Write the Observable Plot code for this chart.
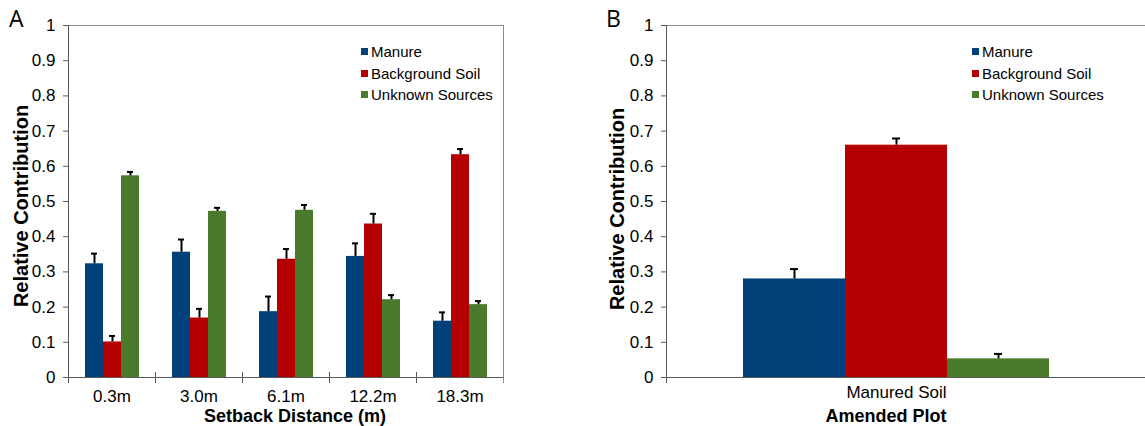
<!DOCTYPE html>
<html>
<head>
<meta charset="utf-8">
<script src="https://cdn.jsdelivr.net/npm/d3@7"></script>
<script src="https://cdn.jsdelivr.net/npm/@observablehq/plot@0.6"></script>
<style>
  html, body { margin: 0; padding: 0; background: #fff; }
  #wrap { position: relative; width: 1145px; height: 426px; overflow: hidden; font-family: "Liberation Sans", Arial, sans-serif; color: #000; }
  .panel { position: absolute; top: 0; }
  .lbl { position: absolute; white-space: nowrap; line-height: 1; }
  .letter { font-family: "Open Sans", "Noto Sans", sans-serif; font-size: 23px; }
  .xtitle { font-weight: bold; font-size: 18px; transform: translateX(-50%); }
  .ytitle { font-weight: bold; font-size: 20px; transform: translate(-50%, -50%) rotate(-90deg); }
  .legend { position: absolute; font-size: 15px; }
  .legend .row { display: flex; align-items: center; height: 21.5px; }
  .legend .sw { width: 7px; height: 7px; margin-right: 3px; }
</style>
</head>
<body>
<div id="wrap"></div>
<script>
// ---- data ----
const groupsA = ["0.3m", "3.0m", "6.1m", "12.2m", "18.3m"];
const series = ["Manure", "Background Soil", "Unknown Sources"];
const colors = ["#00417A", "#B40000", "#4A7A2B"];

const manureA = [0.323, 0.356, 0.187, 0.344, 0.160];
const backgroundA = [0.101, 0.169, 0.336, 0.436, 0.633];
const unknownA = [0.573, 0.472, 0.475, 0.221, 0.207];
const manureErrA = [0.029, 0.036, 0.043, 0.037, 0.025];
const backgroundErrA = [0.017, 0.026, 0.029, 0.029, 0.016];
const unknownErrA = [0.011, 0.010, 0.015, 0.013, 0.010];

const groupB = ["Manured Soil"];
const manureB = [0.280];
const backgroundB = [0.660];
const unknownB = [0.053];
const manureErrB = [0.028];
const backgroundErrB = [0.019];
const unknownErrB = [0.014];

const yTicks = [0, 0.1, 0.2, 0.3, 0.4, 0.5, 0.6, 0.7, 0.8, 0.9, 1];

// ---- tables ----
function buildRows(groups, vals, errs) {
  const rows = [];
  groups.forEach((g, i) => series.forEach((s, j) => {
    rows.push({group: g, series: s, value: vals[j][i], upper: vals[j][i] + errs[j][i]});
  }));
  return rows;
}
const rowsA = buildRows(groupsA, [manureA, backgroundA, unknownA], [manureErrA, backgroundErrA, unknownErrA]);
const rowsB = buildRows(groupB, [manureB, backgroundB, unknownB], [manureErrB, backgroundErrB, unknownErrB]);

const font = {fontFamily: "'Liberation Sans', Arial, sans-serif", fontSize: "17px", color: "#000", background: "transparent", overflow: "visible"};
const axisColor = "#595959";
const frameColor = "#8a8a8a";

// ---- Panel A ----
const H = 426, MT = 25, MB = 49;
const innerH = H - MT - MB;
const chartA = Plot.plot({
  width: 575, height: H,
  marginLeft: 68, marginRight: 72, marginTop: MT, marginBottom: MB,
  style: font,
  fx: {domain: groupsA, paddingInner: 0, paddingOuter: 0, label: null, axis: null},
  x: {domain: series, paddingInner: 0, paddingOuter: 0.79, axis: null},
  y: {domain: [0, 1], axis: null},
  color: {domain: series, range: colors},
  marks: [
    Plot.frame({anchor: "top", stroke: frameColor}),
    Plot.frame({anchor: "right", facetAnchor: "right", stroke: frameColor, insetBottom: -5}),
    Plot.frame({anchor: "left", facetAnchor: "left", stroke: axisColor, insetBottom: -5}),
    Plot.frame({anchor: "left", stroke: axisColor, insetTop: innerH - 5, insetBottom: -5}),
    Plot.barY(rowsA, {fx: "group", x: "series", y: "value", fill: "series"}),
    Plot.ruleX(rowsA, {fx: "group", x: "series", y1: "value", y2: "upper", stroke: "#000", strokeWidth: 2}),
    Plot.tickY(rowsA, {fx: "group", x: "series", y: "upper", stroke: "#000", strokeWidth: 2, insetLeft: 6, insetRight: 6}),
    Plot.ruleY([0], {stroke: axisColor}),
    Plot.axisY({ticks: yTicks, tickFormat: "~g", tickSize: 5, tickPadding: 8, stroke: axisColor, fontSize: 17, label: null}),
    Plot.axisFx({anchor: "bottom", tickSize: 0, tickPadding: 12, fontSize: 17, label: null})
  ]
});

// ---- Panel B ----
const chartB = Plot.plot({
  width: 570, height: H,
  marginLeft: 91, marginRight: 0, marginTop: MT, marginBottom: MB,
  style: font,
  x: {domain: series, paddingInner: 0, paddingOuter: 0.848, align: 0.445, axis: null},
  y: {domain: [0, 1], axis: null},
  color: {domain: series, range: colors},
  marks: [
    Plot.frame({anchor: "top", stroke: frameColor}),
    Plot.frame({anchor: "left", stroke: axisColor, insetBottom: -5}),
    Plot.barY(rowsB, {x: "series", y: "value", fill: "series"}),
    Plot.ruleX(rowsB, {x: "series", y1: "value", y2: "upper", stroke: "#000", strokeWidth: 2}),
    Plot.tickY(rowsB, {x: "series", y: "upper", stroke: "#000", strokeWidth: 2, insetLeft: 47, insetRight: 47}),
    Plot.ruleY([0], {stroke: axisColor}),
    Plot.axisY({ticks: yTicks, tickFormat: "~g", tickSize: 5, tickPadding: 8, stroke: axisColor, fontSize: 17, label: null}),
    Plot.text(groupB, {x: () => series[1], text: d => d, frameAnchor: "bottom", dy: 20, fontSize: 17})
  ]
});

// ---- layout ----
const wrap = d3.select("#wrap");
const pa = wrap.append("div").attr("class", "panel").style("left", "0px");
pa.node().appendChild(chartA);
const pb = wrap.append("div").attr("class", "panel").style("left", "575px");
pb.node().appendChild(chartB);

function label(cls, text, left, top) {
  wrap.append("div").attr("class", "lbl " + cls).style("left", left + "px").style("top", top + "px").text(text);
}
label("letter", "A", 9, 7);
label("letter", "B", 606, 7);
label("xtitle", "Setback Distance (m)", 295, 407);
label("xtitle", "Amended Plot", 886, 407);
label("ytitle", "Relative Contribution", 21, 206);
label("ytitle", "Relative Contribution", 617, 209);

function legend(left, top) {
  const lg = wrap.append("div").attr("class", "legend").style("left", left + "px").style("top", top + "px");
  series.forEach((s, i) => {
    const r = lg.append("div").attr("class", "row");
    r.append("div").attr("class", "sw").style("background", colors[i]);
    r.append("span").text(s);
  });
}
legend(361, 41);
legend(972, 41);
</script>
</body>
</html>
